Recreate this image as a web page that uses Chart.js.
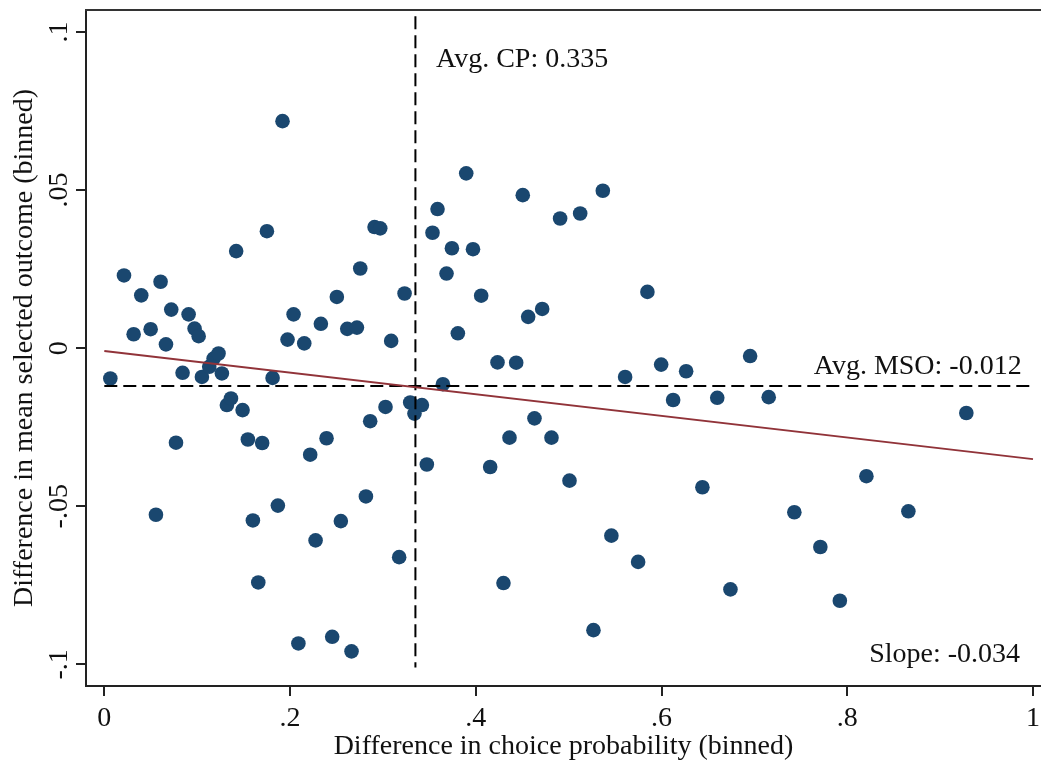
<!DOCTYPE html>
<html>
<head>
<meta charset="utf-8">
<script src="https://cdn.jsdelivr.net/npm/chart.js@4.4.1/dist/chart.umd.min.js"></script>
<style>
html,body{margin:0;padding:0;background:#ffffff;}
#wrap{width:1041px;height:763px;}
</style>
</head>
<body>
<div id="wrap"><canvas id="c" width="1041" height="763"></canvas></div>
<script>
// ---- Data ----
const choiceProb = [
  0.0065,0.0212,0.0316,0.0398,0.0499,0.0556,0.0606,0.0664,0.0721,0.0772,
  0.0843,0.0908,0.0972,0.1016,0.1051,0.1130,0.1177,0.1230,0.1266,0.1320,
  0.1364,0.1420,0.1489,0.1546,0.1600,0.1658,0.1700,0.1751,0.1812,0.1869,
  0.1919,0.1973,0.2038,0.2090,0.2153,0.2217,0.2275,0.2332,0.2393,0.2454,
  0.2504,0.2547,0.2616,0.2662,0.2720,0.2756,0.2817,0.2863,0.2910,0.2971,
  0.3028,0.3089,0.3175,0.3233,0.3294,0.3340,0.3420,0.3473,0.3534,0.3588,
  0.3646,0.3685,0.3743,0.3807,0.3897,0.3970,0.4058,0.4155,0.4234,0.4298,
  0.4363,0.4435,0.4506,0.4564,0.4632,0.4715,0.4815,0.4908,0.5009,0.5124,
  0.5267,0.5368,0.5460,0.5608,0.5748,0.5848,0.5996,0.6125,0.6265,0.6440,
  0.6600,0.6742,0.6954,0.7154,0.7430,0.7710,0.7920,0.8206,0.8658,0.9282
];
const meanOutcome = [
  -0.0096,0.0230,0.0044,0.0167,0.0060,-0.0527,0.0210,0.0012,0.0122,-0.0299,
  -0.0078,0.0107,0.0062,0.0038,-0.0091,-0.0059,-0.0033,-0.0017,-0.0080,-0.0180,
  -0.0159,0.0307,-0.0196,-0.0289,-0.0545,-0.0741,-0.0300,0.0370,-0.0094,-0.0498,
  0.0718,0.0027,0.0107,-0.0934,0.0015,-0.0337,-0.0608,0.0077,-0.0285,-0.0913,
  0.0162,-0.0547,0.0061,-0.0959,0.0065,0.0252,-0.0469,-0.0231,0.0383,0.0379,
  -0.0186,0.0023,-0.0661,0.0173,-0.0172,-0.0207,-0.0180,-0.0368,0.0365,0.0440,
  -0.0114,0.0236,0.0316,0.0047,0.0553,0.0313,0.0166,-0.0376,-0.0045,-0.0743,
  -0.0283,-0.0046,0.0484,0.0099,-0.0222,0.0124,-0.0283,0.0410,-0.0419,0.0426,
  -0.0892,0.0498,-0.0593,-0.0091,-0.0676,0.0178,-0.0052,-0.0164,-0.0073,-0.0440,
  -0.0157,-0.0763,-0.0025,-0.0155,-0.0519,-0.0629,-0.0799,-0.0405,-0.0516,-0.0205
];
const fitX = [0, 1];
const fitY = [-0.0009, -0.0351];
const avgCP = 0.335;
const avgMSO = -0.012;
const slopeValue = -0.034;
const cpLineY = [0.105, -0.101];
const msoLineX = [0, 1];
const xTickValues = [0, 0.2, 0.4, 0.6, 0.8, 1];
const xTickLabels = ['0', '.2', '.4', '.6', '.8', '1'];
const yTickValues = [-0.1, -0.05, 0, 0.05, 0.1];
const yTickLabels = ['-.1', '-.05', '0', '.05', '.1'];
const xTitle = 'Difference in choice probability (binned)';
const yTitle = 'Difference in mean selected outcome (binned)';
const labelCP = 'Avg. CP: ' + avgCP.toFixed(3);
const labelMSO = 'Avg. MSO: ' + avgMSO.toFixed(3);
const labelSlope = 'Slope: ' + slopeValue.toFixed(3);

// ---- Styling ----
const FONT = "'Liberation Serif', 'Times New Roman', serif";
const INK = '#111111';
const AXIS = '#222222';

function labelFor(values, labels, v) {
  const i = values.findIndex(t => Math.abs(t - v) < 1e-9);
  return i >= 0 ? labels[i] : '';
}

const annotationPlugin = {
  id: 'annot',
  afterDatasetsDraw(chart) {
    const {ctx, chartArea, scales: {x, y}} = chart;
    ctx.save();
    // top frame line
    ctx.strokeStyle = '#333333';
    ctx.lineWidth = 2;
    ctx.beginPath();
    ctx.moveTo(chartArea.left - 1, chartArea.top);
    ctx.lineTo(chartArea.right, chartArea.top);
    ctx.stroke();
    // texts
    ctx.fillStyle = INK;
    ctx.font = '28px ' + FONT;
    ctx.textBaseline = 'alphabetic';
    ctx.textAlign = 'left';
    ctx.fillText(labelCP, x.getPixelForValue(0.3572), y.getPixelForValue(0.0889));
    ctx.textAlign = 'right';
    ctx.fillText(labelMSO, x.getPixelForValue(0.9878), y.getPixelForValue(-0.0082));
    ctx.fillText(labelSlope, x.getPixelForValue(0.986), y.getPixelForValue(-0.0993));
    ctx.restore();
  }
};

new Chart(document.getElementById('c'), {
  type: 'scatter',
  data: {
    datasets: [
      {
        type: 'line',
        data: fitX.map((v, i) => ({x: v, y: fitY[i]})),
        borderColor: '#913339',
        borderWidth: 2,
        pointRadius: 0,
        fill: false
      },
      {
        type: 'line',
        data: cpLineY.map(v => ({x: avgCP, y: v})),
        borderColor: '#000000',
        borderWidth: 2,
        borderDash: [13, 6],
        pointRadius: 0,
        fill: false
      },
      {
        type: 'line',
        data: msoLineX.map(v => ({x: v, y: avgMSO})),
        borderColor: '#000000',
        borderWidth: 2,
        borderDash: [13, 6],
        pointRadius: 0,
        fill: false
      },
      {
        data: choiceProb.map((v, i) => ({x: v, y: meanOutcome[i]})),
        backgroundColor: '#1a476f',
        borderColor: '#1a476f',
        borderWidth: 0,
        pointRadius: 7.3
      }
    ]
  },
  options: {
    responsive: false,
    animation: false,
    events: [],
    layout: {autoPadding: false, padding: {top: 10, right: 0, left: 0, bottom: 0}},
    plugins: {legend: {display: false}, tooltip: {enabled: false}},
    scales: {
      x: {
        type: 'linear',
        min: -0.0197,
        max: 1.0086,
        afterBuildTicks: s => { s.ticks = xTickValues.map(v => ({value: v})); },
        afterFit: s => { s.height = 77; s.paddingLeft = 0; s.paddingRight = 0; },
        grid: {display: true, drawOnChartArea: false, drawTicks: true, tickLength: 10, color: AXIS, lineWidth: 2},
        border: {display: true, color: AXIS, width: 2},
        ticks: {
          color: INK,
          font: {family: FONT, size: 28},
          padding: 6,
          maxRotation: 0,
          autoSkip: false,
          callback: v => labelFor(xTickValues, xTickLabels, v)
        },
        title: {
          display: true,
          text: xTitle,
          color: INK,
          font: {family: FONT, size: 28, lineHeight: 1},
          padding: {top: 0, bottom: 2}
        }
      },
      y: {
        type: 'linear',
        min: -0.10686,
        max: 0.10696,
        afterBuildTicks: s => { s.ticks = yTickValues.map(v => ({value: v})); },
        afterFit: s => { s.width = 86; s.paddingTop = 0; s.paddingBottom = 0; },
        grid: {display: true, drawOnChartArea: false, drawTicks: true, tickLength: 10, color: AXIS, lineWidth: 2},
        border: {display: true, color: AXIS, width: 2},
        ticks: {
          color: INK,
          font: {family: FONT, size: 28},
          padding: -6,
          minRotation: 90,
          maxRotation: 90,
          crossAlign: 'center',
          autoSkip: false,
          callback: v => labelFor(yTickValues, yTickLabels, v)
        },
        title: {
          display: true,
          text: yTitle,
          color: INK,
          font: {family: FONT, size: 28, lineHeight: 1},
          padding: {top: 11, bottom: 0}
        }
      }
    }
  },
  plugins: [annotationPlugin]
});
</script>
</body>
</html>
